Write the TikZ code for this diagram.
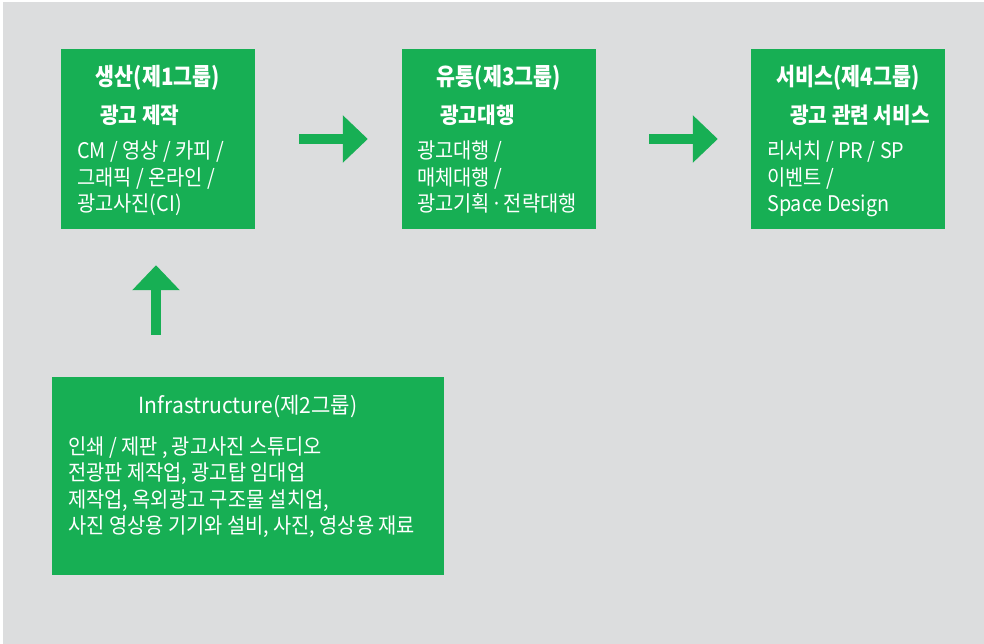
\documentclass[tikz,border=0pt]{standalone}
\usepackage{fontspec}
\usetikzlibrary{arrows.meta}
\newfontfamily\krbody[FakeStretch=0.92]{Noto Sans CJK KR}
\newfontfamily\krtitle[FakeStretch=0.86]{Noto Sans CJK KR}
\newfontfamily\krsub[FakeStretch=0.92]{Noto Sans CJK KR}
\newfontfamily\krinfra[FakeStretch=0.95]{Noto Sans CJK KR}
\definecolor{bggray}{RGB}{220,221,222}
\definecolor{boxgreen}{RGB}{23,175,84}
\tikzset{
  gbox/.style={fill=boxgreen, draw=none, minimum width=#1, inner sep=0pt},
  ttl/.style={text=white, inner sep=0pt, anchor=base, font=\krtitle\bfseries\fontsize{24}{28}\selectfont},
  ttlb/.style={text=white, inner sep=0pt, anchor=base, font=\krinfra\fontsize{22.2}{26}\selectfont},
  subt/.style={text=white, inner sep=0pt, anchor=base west, font=\krsub\bfseries\fontsize{22}{26}\selectfont},
  bodyt/.style={text=white, inner sep=0pt, anchor=base west, font=\krbody\fontsize{21.5}{26}\selectfont},
  garrow/.style={draw=boxgreen, line width=10pt, -{Triangle[width=46pt,length=25pt]}}
}
\begin{document}
\begin{tikzpicture}[x=1pt,y=-1pt]
\useasboundingbox (0,0) rectangle (984,644);
\fill[white] (0,0) rectangle (984,644);
\fill[bggray] (3,2) rectangle (984,644);
% boxes
\node[gbox=194pt, minimum height=180pt] (b1) at (158,139) {};
\node[gbox=194pt, minimum height=180pt] (b2) at (499,139) {};
\node[gbox=194pt, minimum height=180pt] (b3) at (848,139) {};
\node[gbox=392pt, minimum height=198pt] (b4) at (248,475.7) {};
% box 1
\node[ttl] (t1) at (158,86) {생산(제1그룹)};
\node[subt] (s1) at (100,124) {광고 제작};
\node[bodyt] (b1a) at (77,159) {CM / 영상 / 카피 /};
\node[bodyt] (b1b) at (77,185.5) {그래픽 / 온라인 /};
\node[bodyt] (b1c) at (77,212) {광고사진(CI)};
% box 2
\node[ttl] (t2) at (499,86) {유통(제3그룹)};
\node[subt] (s2) at (440,124) {광고대행};
\node[bodyt] (b2a) at (417,159) {광고대행 /};
\node[bodyt] (b2b) at (417,185.5) {매체대행 /};
\node[bodyt] (b2c) at (417,212) {광고기획 \makebox[5pt]{·} 전략대행};
% box 3
\node[ttl] (t3) at (848,86) {서비스(제4그룹)};
\node[subt] (s3) at (790,124) {광고 관련 서비스};
\node[bodyt] (b3a) at (767,159) {리서치 / PR / SP};
\node[bodyt] (b3b) at (767,185.5) {이벤트 /};
\node[bodyt] (b3c) at (767,212) {Space Design};
% box 4
\node[ttlb] (t4) at (248,413) {Infrastructure(제2그룹)};
\node[bodyt] (b4a) at (68,454) {인쇄 / 제판 , 광고사진 스튜디오};
\node[bodyt] (b4b) at (68,480.5) {전광판 제작업, 광고탑 임대업};
\node[bodyt] (b4c) at (68,507) {제작업, 옥외광고 구조물 설치업,};
\node[bodyt] (b4d) at (68,533) {사진 영상용 기기와 설비, 사진, 영상용 재료};
% arrows
\coordinate (upx) at (156,300);
\draw[garrow, shorten <=44pt, shorten >=34pt] (b1.east) -- (b2.west);
\draw[garrow, shorten <=53pt, shorten >=33pt] (b2.east) -- (b3.west);
\draw[garrow, shorten <=41.7pt, shorten >=36pt] (b4.north -| upx) -- (b1.south -| upx);
\end{tikzpicture}
\end{document}
